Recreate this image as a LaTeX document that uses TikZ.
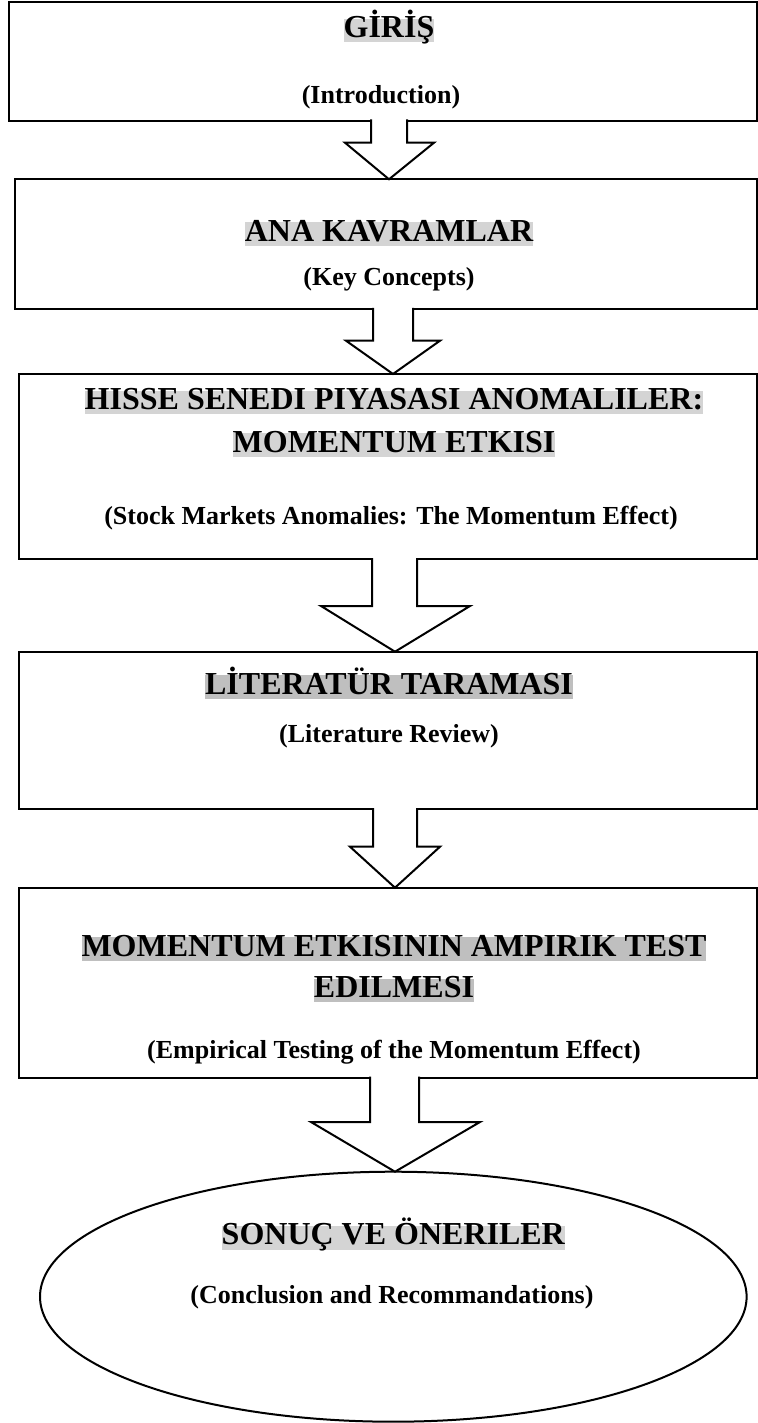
\documentclass[tikz,border=0pt]{standalone}
\usepackage{fontspec}
\setmainfont{Liberation Serif}
\usetikzlibrary{calc,shapes.geometric}

\definecolor{hlight}{HTML}{D4D4D4}
\definecolor{hdark}{HTML}{BFBFBF}

\def\Tx{389}
\def\Ux{394}
\def\Ex{393.3}

\begin{document}
\begin{tikzpicture}[x=0.5pt, y=-0.5pt, line width=1pt,
    stage/.style={draw, rectangle, inner sep=0pt, outer sep=0pt},
    final/.style={draw, ellipse, inner sep=0pt, outer sep=0pt, minimum width=353.3pt, minimum height=125pt},
    head/.style={fill=hlight, inner sep=0pt, text height=.95em, text depth=.24em, font=\fontsize{16}{18}\selectfont\bfseries},
    sub/.style={inner sep=0pt, text height=.891em, text depth=.216em, font=\fontsize{13}{15}\selectfont\bfseries},
    blockarrow/.style={draw, fill=white, line join=miter}]
    \useasboundingbox (0,0) rectangle (758,1423);

    % stages
    \node[stage, minimum width=374pt, minimum height=59.35pt] (b1) at (383,61.35) {};
    \node[stage, minimum width=371pt, minimum height=64.85pt] (b2) at (386,244.15) {};
    \node[stage, minimum width=369pt, minimum height=92.65pt] (b3) at (388,466.65) {};
    \node[stage, minimum width=369pt, minimum height=78.8pt] (b4) at (388,730.5) {};
    \node[stage, minimum width=369pt, minimum height=95pt] (b5) at (388,982.7) {};
    \node[final] (b6) at (\Ex,1296.7) {};

    % titles
    \node[head] (h1) at (\Tx,30.5) {GİRİŞ};
    \node[sub] (s1) at (381,97) {(Introduction)};
    \node[head] (h2) at (\Tx,234) {ANA KAVRAMLAR};
    \node[sub] (s2) at (\Tx,279) {(Key Concepts)};
    \node[head] (h3a) at (\Ux,402.5) {HISSE SENEDI PIYASASI ANOMALILER:};
    \node[head] (h3b) at (\Ux,445) {MOMENTUM ETKISI};
    \node[sub] (s3) at (391,517.7) {(Stock Markets Anomalies: The Momentum Effect)};
    \node[head, fill=hdark] (h4) at (\Tx,687) {LİTERATÜR TARAMASI};
    \node[sub] (s4) at (\Tx,736) {(Literature Review)};
    \node[head, fill=hdark] (h5a) at (\Ux,949) {MOMENTUM ETKISININ AMPIRIK TEST};
    \node[head, fill=hdark] (h5b) at (\Ux,990.5) {EDILMESI};
    \node[sub] (s5) at (\Ux,1051.7) {(Empirical Testing of the Momentum Effect)};
    \node[head] (h6) at (\Ex,1237.7) {SONUÇ VE ÖNERILER};
    \node[sub] (s6) at (392,1296.7) {(Conclusion and Recommandations)};

    % arrows
    \draw[blockarrow] ([yshift=0.6pt]371,0 |- b1.south) -- (371,142.7) -- (345,142.7) -- (389,0 |- b2.north)
        -- (434,142.7) -- (407,142.7) -- ([yshift=0.6pt]407,0 |- b1.south);
    \draw[blockarrow] ([yshift=0.6pt]373,0 |- b2.south) -- (373,340.7) -- (346,340.7) -- (393,0 |- b3.north)
        -- (440,340.7) -- (413,340.7) -- ([yshift=0.6pt]413,0 |- b2.south);
    \draw[blockarrow] ([yshift=0.6pt]372,0 |- b3.south) -- (372,606) -- (321,606) -- (395,0 |- b4.north)
        -- (470,606) -- (417,606) -- ([yshift=0.6pt]417,0 |- b3.south);
    \draw[blockarrow] ([yshift=0.6pt]373,0 |- b4.south) -- (373,846.7) -- (350,846.7) -- (395,0 |- b5.north)
        -- (440,846.7) -- (417,846.7) -- ([yshift=0.6pt]417,0 |- b4.south);
    \draw[blockarrow] ([yshift=0.6pt]370,0 |- b5.south) -- (370,1122) -- (311,1122) -- (395,0 |- b6.north)
        -- (480,1122) -- (419,1122) -- ([yshift=0.6pt]419,0 |- b5.south);
\end{tikzpicture}
\end{document}
